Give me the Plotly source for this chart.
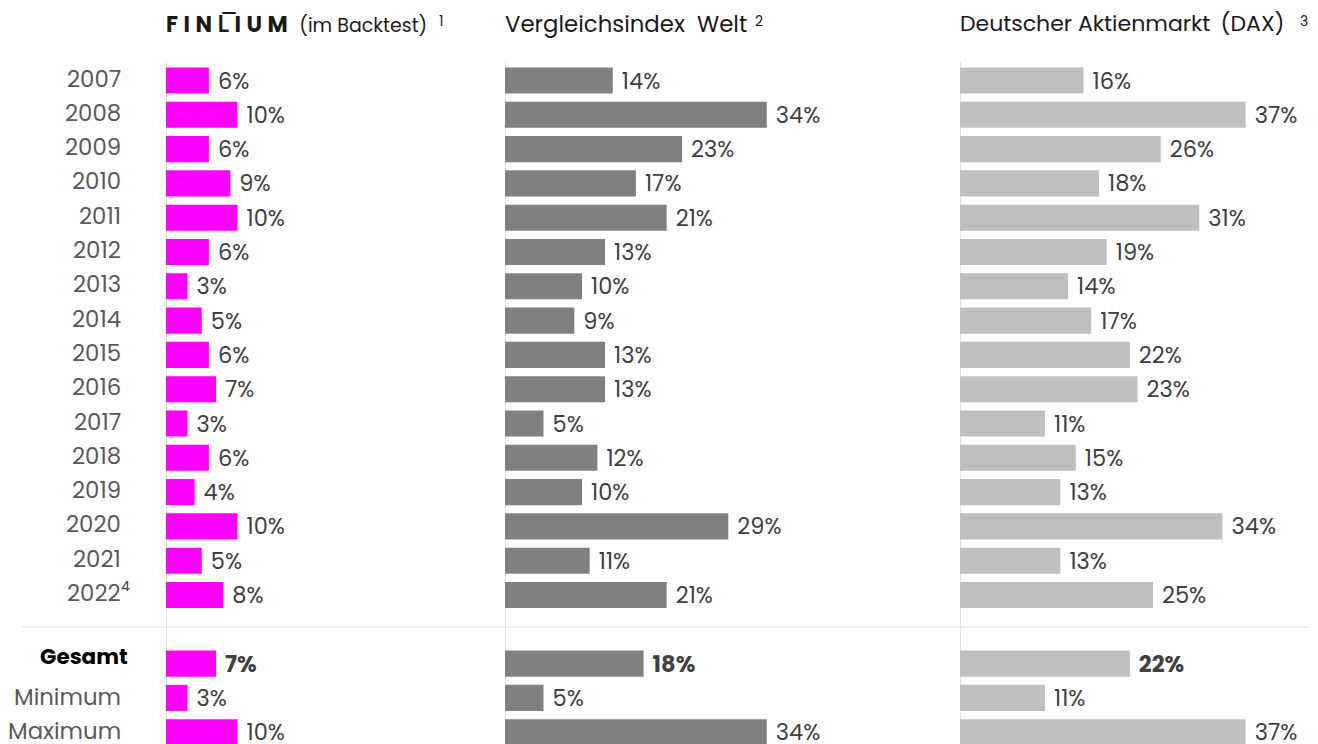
import plotly.graph_objects as go

# ---------------- data ----------------
row_labels = ["2007", "2008", "2009", "2010", "2011", "2012", "2013", "2014",
              "2015", "2016", "2017", "2018", "2019", "2020", "2021", "2022"]
summary_labels = ["Gesamt", "Minimum", "Maximum"]

finlium_years = [6, 10, 6, 9, 10, 6, 3, 5, 6, 7, 3, 6, 4, 10, 5, 8]
finlium_summary = [7, 3, 10]

welt_years = [14, 34, 23, 17, 21, 13, 10, 9, 13, 13, 5, 12, 10, 29, 11, 21]
welt_summary = [18, 5, 34]

dax_years = [16, 37, 26, 18, 31, 19, 14, 17, 22, 23, 11, 15, 13, 34, 13, 25]
dax_summary = [22, 11, 37]

panel_titles = [
    "<span style='letter-spacing:5.5px;font-size:22px'><b>FINL\u0305IUM</b></span>"
    " <span style='font-size:19px'>(im Backtest)</span>",
    "Vergleichsindex\u00a0 Welt",
    "<span style='font-size:22px'>Deutscher Aktienmarkt\u2009 (DAX)</span>",
]
title_notes = ["1", "2", "3"]
colors = ["#FF00FF", "#808080", "#BFBFBF"]

# ---------------- layout helpers ----------------
W, H = 1318, 744
OFF = 8  # page body margin offset
FONT = "Poppins, Lato, sans-serif"
n_years = len(row_labels)
y_years = list(range(n_years))
y_summary = [n_years + 1 + i for i in range(len(summary_labels))]
y_all = y_years + y_summary

row_px0, row_step = 80.5 - OFF, 34.3
y_top = -row_px0 / row_step
y_bot = y_top + H / row_step

# panel placements (pixel start, px per percent, axis max, footnote x)
panels = [
    (166 - OFF, 7.15, 20, 437 - OFF),
    (505 - OFF, 7.70, 40, 753 - OFF),
    (960 - OFF, 7.72, 40, 1298 - OFF),
]
series = [
    (finlium_years, finlium_summary),
    (welt_years, welt_summary),
    (dax_years, dax_summary),
]

fig = go.Figure()
layout_axes = {}
shapes = []
annotations = []

for k, ((px0, scale, rmax, notex), (yrs, summ), col, title, note) in enumerate(
        zip(panels, series, colors, panel_titles, title_notes)):
    axname = "x" if k == 0 else f"x{k+1}"
    layname = "xaxis" if k == 0 else f"xaxis{k+1}"
    vals = yrs + summ
    texts = []
    for i, v in enumerate(vals):
        if i == n_years:  # Gesamt
            texts.append(f"\u00a0<b>{v}%</b>")
        else:
            texts.append(f"\u00a0{v}%")
    fig.add_trace(go.Bar(
        x=vals, y=y_all, orientation="h",
        xaxis=axname, yaxis="y",
        marker=dict(color=col, line=dict(width=0)),
        width=0.76,
        text=texts, texttemplate="%{text}", textposition="outside",
        constraintext="none",
        textfont=dict(family=FONT, size=22.5, color="#404040"),
        cliponaxis=False, showlegend=False, hoverinfo="skip",
    ))
    layout_axes[layname] = dict(
        domain=[px0 / W, (px0 + scale * rmax) / W],
        range=[0, rmax], visible=False, anchor="y", fixedrange=True,
    )
    # vertical base line
    shapes.append(dict(type="line", xref=axname, yref="y",
                       x0=0, x1=0, y0=-0.55, y1=y_bot,
                       line=dict(color="#D9D9D9", width=1.5), layer="below"))
    # title
    annotations.append(dict(
        text=title, xref="paper", yref="paper",
        x=(px0 - 2) / W, y=1 - (24 - OFF) / H, xanchor="left", yanchor="middle",
        showarrow=False, font=dict(family=FONT, size=22.8, color="#1A1A1A"),
    ))
    # footnote marker
    annotations.append(dict(
        text=note, xref="paper", yref="paper",
        x=notex / W, y=1 - (21 - OFF) / H, xanchor="left", yanchor="middle",
        showarrow=False, font=dict(family=FONT, size=14, color="#1A1A1A"),
    ))

# separator line
sep_y = (627 - OFF - row_px0) / row_step
shapes.append(dict(type="line", xref="paper", yref="y",
                   x0=(22 - OFF) / W, x1=(1313 - OFF) / W, y0=sep_y, y1=sep_y,
                   line=dict(color="#E3E3E3", width=1), layer="below"))

# row labels
lab_x = (123 - OFF) / W
for lab, yv in zip(row_labels, y_years):
    annotations.append(dict(
        text=lab, xref="paper", yref="y", x=lab_x, y=yv,
        xanchor="right", yanchor="middle", showarrow=False, yshift=2,
        font=dict(family=FONT, size=22.8, color="#595959"),
    ))
# footnote marker for last year
annotations.append(dict(
    text="4", xref="paper", yref="y", x=(119 - OFF) / W, y=y_years[-1],
    xanchor="left", yanchor="middle", showarrow=False, yshift=9,
    font=dict(family=FONT, size=14, color="#404040"),
))
for i, (lab, yv) in enumerate(zip(summary_labels, y_summary)):
    if i == 0:
        annotations.append(dict(
            text=f"<b>{lab}</b>", xref="paper", yref="y", x=(130 - OFF) / W, y=yv,
            xanchor="right", yanchor="middle", showarrow=False, yshift=7,
            font=dict(family=FONT, size=21.5, color="#000000"),
        ))
    else:
        annotations.append(dict(
            text=lab, xref="paper", yref="y", x=lab_x, y=yv,
            xanchor="right", yanchor="middle", showarrow=False, yshift=1,
            font=dict(family=FONT, size=22.8, color="#595959"),
        ))

fig.update_layout(
    width=W, height=H,
    margin=dict(l=0, r=0, t=0, b=0),
    paper_bgcolor="white", plot_bgcolor="white",
    yaxis=dict(range=[y_bot, y_top], visible=False, fixedrange=True),
    shapes=shapes, annotations=annotations,
    bargap=0.2,
    **layout_axes,
)

fig.write_html("out.html")
